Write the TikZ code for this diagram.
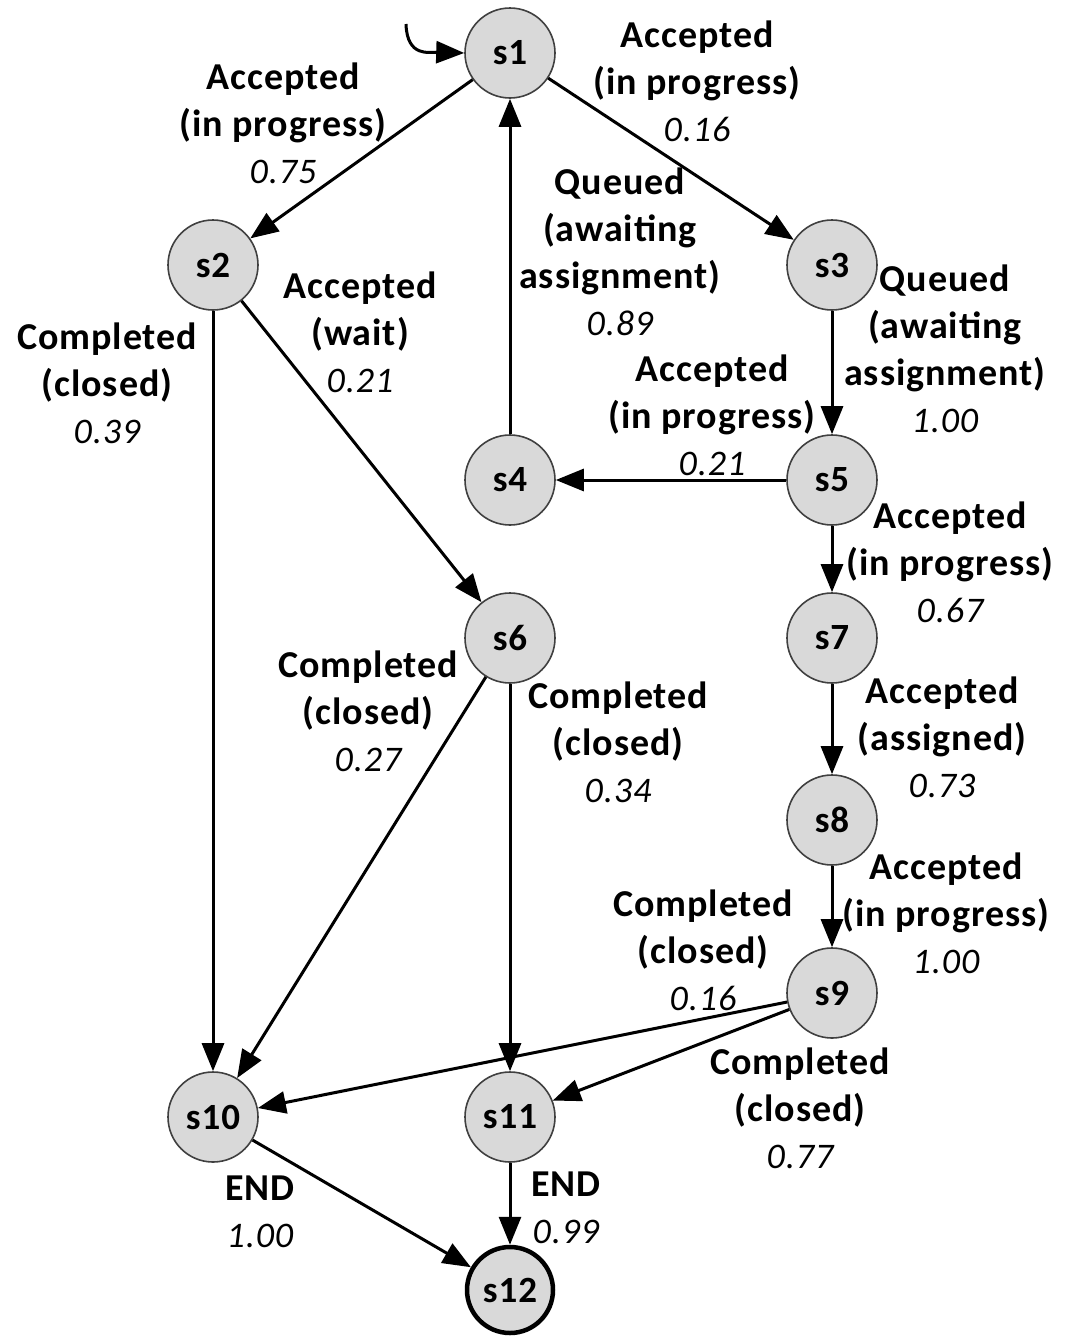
\documentclass[tikz,border=0pt]{standalone}
\usepackage{fontspec}
\setmainfont{Carlito}[LetterSpace=2.5]
\usetikzlibrary{arrows.meta}
\newcommand{\pnum}[1]{{\fontsize{36}{47}\selectfont\mdseries\itshape #1}}
\begin{document}
\begin{tikzpicture}[x=1pt,y=-1pt,
  state/.style={circle,draw=black!75,line width=1.6pt,fill=black!15,minimum size=90pt,inner sep=0pt,font=\fontsize{37}{40}\selectfont\bfseries},
  final/.style={state,draw=black,line width=4.5pt,minimum size=86pt},
  lbl/.style={align=center,font=\fontsize{38}{47}\selectfont\bfseries,inner sep=0pt},
  edge/.style={line width=3pt,-{Triangle[length=28pt,width=22pt]}}]
\useasboundingbox (0,0) rectangle (1071,1336);
\node[state] (s1) at (510,53) {s1};
\node[state] (s2) at (213,265) {s2};
\node[state] (s3) at (832,265) {s3};
\node[state] (s4) at (510,480) {s4};
\node[state] (s5) at (832,480) {s5};
\node[state] (s6) at (510,638) {s6};
\node[state] (s7) at (832,638) {s7};
\node[state] (s8) at (832,820) {s8};
\node[state] (s9) at (832,993) {s9};
\node[state] (s10) at (213,1117) {s10};
\node[state] (s11) at (510,1117) {s11};
\node[final] (s12) at (510,1290) {s12};
\coordinate (init) at (406,24);
\draw[edge] (init) .. controls (407,58) and (430,52) .. (s1.west);
\draw[edge] (s1) -- (s2);
\draw[edge] (s1) -- (s3);
\draw[edge] (s4) -- (s1);
\draw[edge] (s3) -- (s5);
\draw[edge] (s5) -- (s4);
\draw[edge] (s2) -- (s6);
\draw[edge] (s2) -- (s10);
\draw[edge] (s5) -- (s7);
\draw[edge] (s6) -- (s10);
\draw[edge] (s6) -- (s11);
\draw[edge] (s7) -- (s8);
\draw[edge] (s8) -- (s9);
\draw[edge] (s9) -- (s10);
\draw[edge] (s9) -- (s11);
\draw[edge] (s10) -- (s12);
\draw[edge] (s11) -- (s12);
\node[lbl] (l12) at (283,123) {Accepted\\(in progress)\\\pnum{0.75}};
\node[lbl] (l13) at (697,81) {Accepted\\(in progress)\\\pnum{0.16}};
\node[lbl] (l41) at (620,252) {Queued\\(awaiting\\assignment)\\\pnum{0.89}};
\node[lbl] (l35) at (945,349) {Queued\\(awaiting\\assignment)\\\pnum{1.00}};
\node[lbl] (l54) at (712,415) {Accepted\\(in progress)\\\pnum{0.21}};
\node[lbl] (l26) at (360,332) {Accepted\\(wait)\\\pnum{0.21}};
\node[lbl] (l210) at (107,383) {Completed\\(closed)\\\pnum{0.39}};
\node[lbl] (l57) at (950,562) {Accepted\\(in progress)\\\pnum{0.67}};
\node[lbl] (l610) at (368,711) {Completed\\(closed)\\\pnum{0.27}};
\node[lbl] (l611) at (618,742) {Completed\\(closed)\\\pnum{0.34}};
\node[lbl] (l78) at (942,737) {Accepted\\(assigned)\\\pnum{0.73}};
\node[lbl] (l89) at (946,913) {Accepted\\(in progress)\\\pnum{1.00}};
\node[lbl] (l910) at (703,950) {Completed\\(closed)\\\pnum{0.16}};
\node[lbl] (l911) at (800,1108) {Completed\\(closed)\\\pnum{0.77}};
\node[lbl] (l1012) at (260,1212) {END\\\pnum{1.00}};
\node[lbl] (l1112) at (566,1208) {END\\\pnum{0.99}};
\end{tikzpicture}
\end{document}
